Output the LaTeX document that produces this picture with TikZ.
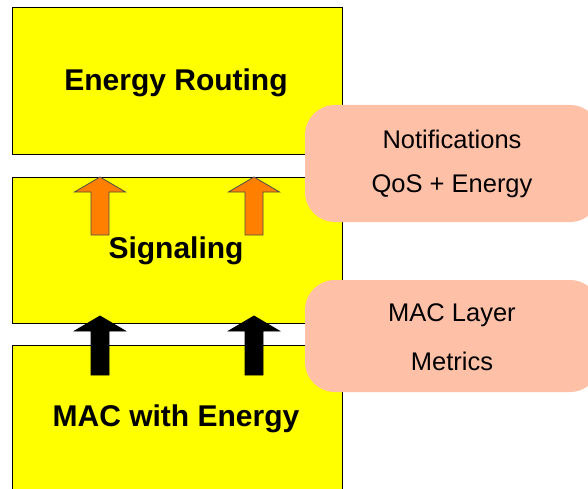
\documentclass[tikz,border=0pt]{standalone}
\usepackage{fontspec}
\setmainfont{Liberation Sans}
\definecolor{boxyellow}{RGB}{255,255,0}
\definecolor{salmon}{RGB}{255,192,168}
\definecolor{arroworange}{RGB}{255,128,0}
\tikzset{
  layerbox/.style={draw=black, line width=1pt, fill=boxyellow},
  layertext/.style={font=\fontsize{30}{34}\selectfont\bfseries, inner sep=0pt},
  notebox/.style={fill=salmon, rounded corners=30pt},
  notetext/.style={font=\fontsize{25.5}{30}\selectfont, inner sep=0pt},
  orangearrow/.style={fill=arroworange, draw=black!70, line width=0.8pt, line join=miter},
  blackarrow/.style={fill=black, draw=black, line width=0.8pt}
}
\newcommand{\uparrowshape}[4]{% x center, tip y, base y, style
  (#1-9,#3) -- (#1-9,#2+15) -- (#1-25.5,#2+15) -- (#1,#2) -- (#1+25.5,#2+15) -- (#1+9,#2+15) -- (#1+9,#3) -- cycle}
\begin{document}
\begin{tikzpicture}[x=1pt,y=-1pt]
\useasboundingbox (0,0) rectangle (588,489);
\clip (0,0) rectangle (588,489);
% layer boxes
\draw[layerbox] (12,8) rectangle (342,155);
\draw[layerbox] (12,177) rectangle (342,323);
\draw[layerbox] (12,345) rectangle (342,500);
% arrows
\draw[orangearrow] \uparrowshape{100}{177}{235}{};
\draw[orangearrow] \uparrowshape{254}{177}{235}{};
\draw[blackarrow] \uparrowshape{100}{316}{375}{};
\draw[blackarrow] \uparrowshape{254}{316}{375}{};
% layer labels
\node[layertext] (routing) at (176,83) {Energy Routing};
\node[layertext] (signaling) at (176,251) {Signaling};
\node[layertext] (mac) at (176,419) {MAC with Energy};
% note boxes
\fill[notebox] (305,105) rectangle (600,222);
\fill[notebox] (305,280) rectangle (600,392);
\node[notetext] (notif) at (452,139) {Notifications};
\node[notetext] (qos) at (452,186) {QoS + Energy};
\node[notetext] (maclayer) at (452,315) {MAC Layer};
\node[notetext] (metrics) at (452,361) {Metrics};
\end{tikzpicture}
\end{document}
